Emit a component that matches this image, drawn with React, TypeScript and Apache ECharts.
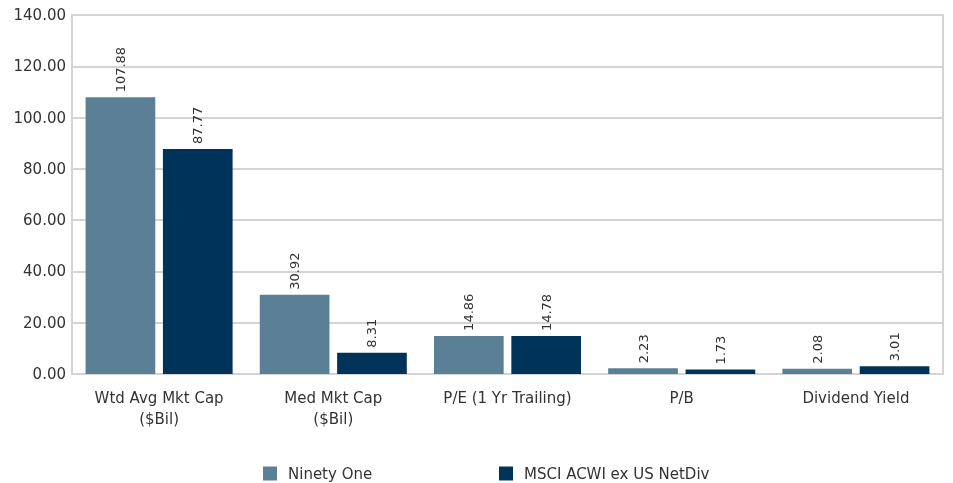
import React, { useEffect, useRef } from "react";
import * as echarts from "echarts";

const categories = ["Wtd Avg Mkt Cap\n($Bil)", "Med Mkt Cap\n($Bil)", "P/E (1 Yr Trailing)", "P/B", "Dividend Yield"];
const seriesNames = ["Ninety One", "MSCI ACWI ex US NetDiv"];
const ninetyOne = [107.88, 30.92, 14.86, 2.23, 2.08];
const msci = [87.77, 8.31, 14.78, 1.73, 3.01];
const colors = ["#5B7F95", "#003359"];
const FONT = "DejaVu Sans";

export default function App() {
  const ref = useRef<HTMLDivElement>(null);
  useEffect(() => {
    if (!ref.current) return;
    const chart = echarts.init(ref.current, undefined, { renderer: "svg" });
    const label = {
      show: true,
      position: "top",
      rotate: 90,
      align: "left",
      verticalAlign: "middle",
      distance: 5,
      color: "#333",
      fontSize: 13,
      fontFamily: FONT,
      formatter: (p: any) => p.value.toFixed(2),
    };
    const legendText = { fontSize: 15, color: "#333", fontFamily: FONT, padding: [0, 0, 0, 6] };
    chart.setOption({
      animation: false,
      grid: {
        left: 72,
        right: 10,
        top: 15,
        bottom: 109,
        show: true,
        borderColor: "#d4d4d4",
        borderWidth: 2,
      },
      legend: [
        {
          data: [seriesNames[0]],
          left: 258,
          top: 461,
          itemWidth: 14,
          itemHeight: 14,
          icon: "rect",
          textStyle: legendText,
        },
        {
          data: [seriesNames[1]],
          left: 494,
          top: 461,
          itemWidth: 14,
          itemHeight: 14,
          icon: "rect",
          textStyle: legendText,
        },
      ],
      xAxis: {
        type: "category",
        data: categories,
        axisLine: { show: true, lineStyle: { color: "#d4d4d4", width: 2 } },
        axisTick: { show: false },
        axisLabel: {
          color: "#333",
          fontSize: 15,
          fontFamily: FONT,
          margin: 13,
          lineHeight: 21,
          interval: 0,
        },
      },
      yAxis: {
        type: "value",
        min: 0,
        max: 140,
        interval: 20,
        axisLine: { show: true, lineStyle: { color: "#d4d4d4", width: 2 } },
        axisTick: { show: false },
        splitLine: { lineStyle: { color: "#d4d4d4", width: 2 } },
        axisLabel: {
          color: "#333",
          fontSize: 15,
          fontFamily: FONT,
          margin: 6,
          formatter: (v: number) => v.toFixed(2),
        },
      },
      series: [
        {
          name: seriesNames[0],
          type: "bar",
          data: ninetyOne,
          itemStyle: { color: colors[0] },
          barWidth: "40%",
          barGap: "11%",
          label,
        },
        {
          name: seriesNames[1],
          type: "bar",
          data: msci,
          itemStyle: { color: colors[1] },
          barWidth: "40%",
          barGap: "11%",
          label,
        },
      ],
    });
    return () => chart.dispose();
  }, []);
  return <div ref={ref} style={{ width: 953, height: 483, position: "fixed", left: 0, top: 0 }} />;
}
